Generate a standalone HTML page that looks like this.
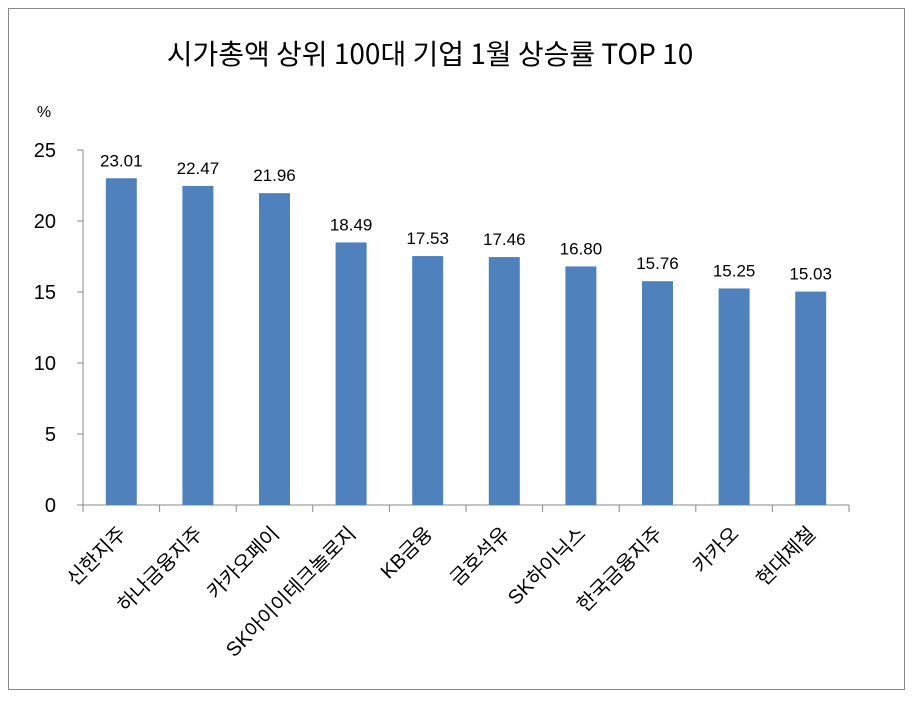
<!DOCTYPE html>
<html><head><meta charset="utf-8"><style>
body{margin:0;background:#fff;}
svg{display:block;font-family:"Liberation Sans","Malgun Gothic","Noto Sans CJK KR",sans-serif;}
</style></head><body>
<svg width="914" height="702">
<rect x="8.5" y="8.5" width="896" height="681" fill="#fff" stroke="#888"/>
<text x="430" y="64" text-anchor="middle" font-size="28" font-family="'Noto Sans CJK KR',sans-serif" fill="#000">시가총액 상위 100대 기업  1월 상승률 TOP 10</text>
<text x="44" y="117" text-anchor="middle" font-size="16" fill="#000">%</text>
<g id="plot"></g>
</svg>
<script>
const categories=["신한지주","하나금융지주","카카오페이","SK아이이테크놀로지","KB금융","금호석유","SK하이닉스","한국금융지주","카카오","현대제철"];
const values=[23.01,22.47,21.96,18.49,17.53,17.46,16.80,15.76,15.25,15.03];
const valueLabels=["23.01","22.47","21.96","18.49","17.53","17.46","16.80","15.76","15.25","15.03"];
const yTicks=[0,5,10,15,20,25];
const NS="http://www.w3.org/2000/svg";
const g=document.getElementById('plot');
const x0=83,x1=849,yBase=505,yTop=150,yMax=25;
const bw=(x1-x0)/categories.length;
function y(v){return yBase-(v/yMax)*(yBase-yTop);}
function xc(i){return x0+bw*(i+0.5);}
function mk(t,a){const e=document.createElementNS(NS,t);for(const k in a)e.setAttribute(k,a[k]);g.appendChild(e);return e;}
let ax=mk('line',{x1:x0,y1:yTop,x2:x0,y2:yBase,stroke:'#888'});


let xa=mk('line',{x1:x0-6,y1:yBase,x2:x1,y2:yBase,stroke:'#888'});


yTicks.forEach(t=>{
 let l=mk('line',{x1:x0-6,y1:y(t),x2:x0,y2:y(t),stroke:'#888'});
 
 
 let tx=mk('text',{x:56,y:y(t)+7,'text-anchor':'end','font-size':20,fill:'#000'});
 tx.textContent=t;
 
 
});
for(let i=0;i<=categories.length;i++){
 let l=mk('line',{x1:x0+bw*i,y1:yBase,x2:x0+bw*i,y2:yBase+7,stroke:'#888'});
 
 
}
categories.forEach((c,i)=>{
 const cx=xc(i),w=31;
 let r=mk('rect',{x:cx-w/2,y:y(values[i]),width:w,height:yBase-y(values[i]),fill:'#4f81bd'});
 
 
 let v=mk('text',{x:cx,y:y(values[i])-12,'text-anchor':'middle','font-size':17,fill:'#000'});
 v.textContent=valueLabels[i];
 
 
 let lb=mk('text',{x:0,y:0,'text-anchor':'end','font-size':20,fill:'#000',transform:`translate(${cx+6},${yBase+30}) rotate(-45)`});
 lb.textContent=c;
 
 
});
</script>
</body></html>
